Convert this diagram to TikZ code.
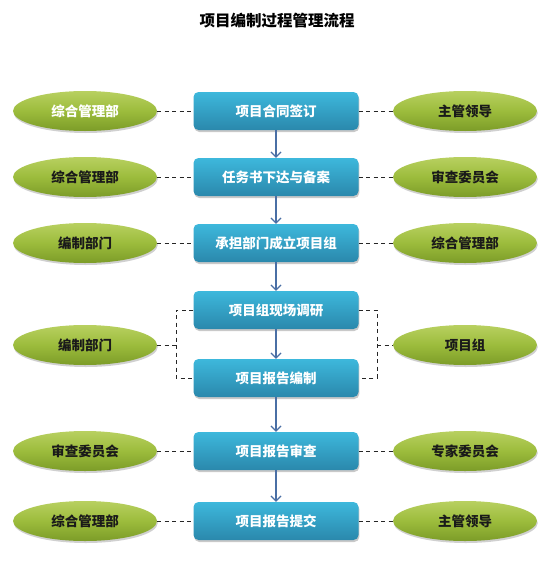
\documentclass[tikz,border=0pt]{standalone}
\usepackage{fontspec}
\setmainfont{Noto Sans CJK SC}
\usetikzlibrary{shapes.geometric,shadows,arrows.meta}
\definecolor{boxtop}{HTML}{3DB8DC}
\definecolor{boxbot}{HTML}{2A88AC}
\definecolor{elltop}{HTML}{B8D060}
\definecolor{ellmid}{HTML}{9CBC3C}
\definecolor{ellbot}{HTML}{7C9C28}
\definecolor{arrowc}{HTML}{4A6FA5}
\definecolor{textdark}{HTML}{1A1A1A}
\tikzset{
  stepbox/.style={rectangle, rounded corners=5pt, minimum width=165pt, minimum height=38pt, inner sep=0pt,
    top color=boxtop, bottom color=boxbot, draw=none,
    drop shadow={shadow xshift=0.8pt, shadow yshift=-2pt, opacity=0.35, fill=black!60},
    text=white, font=\bfseries\fontsize{13.5pt}{14pt}\selectfont},
  role/.style={ellipse, minimum width=144pt, minimum height=40pt, inner sep=0pt,
    top color=elltop, bottom color=ellbot, middle color=ellmid, draw=none,
    drop shadow={shadow xshift=0.8pt, shadow yshift=-2pt, opacity=0.3, fill=black!60},
    text=textdark, font=\bfseries\fontsize{13.5pt}{14pt}\selectfont},
  link/.style={draw=black!85, line width=1pt, dash pattern=on 4pt off 3.5pt},
  flow/.style={draw=arrowc, line width=1.2pt, -{Straight Barb[length=5pt,width=10pt,line width=1.2pt]}}
}
\begin{document}
\begin{tikzpicture}[x=1pt,y=-1pt]
\useasboundingbox (0,0) rectangle (553,562);
\fill[white] (0,0) rectangle (553,562);
\node[font=\bfseries\fontsize{15.5pt}{16pt}\selectfont] (title) at (277,21) {项目编制过程管理流程};

\node[stepbox] (b1) at (276,111) {项目合同签订};
\node[stepbox] (b2) at (276,177) {任务书下达与备案};
\node[stepbox] (b3) at (276,243) {承担部门成立项目组};
\node[stepbox] (b4) at (276,310) {项目组现场调研};
\node[stepbox] (b5) at (276,378) {项目报告编制};
\node[stepbox] (b6) at (276,451) {项目报告审查};
\node[stepbox] (b7) at (276,521) {项目报告提交};

\node[role, text=white] (l1) at (85,111) {综合管理部};
\node[role] (l2) at (85,177) {综合管理部};
\node[role] (l3) at (85,243) {编制部门};
\node[role] (l4) at (85,345) {编制部门};
\node[role] (l6) at (85,451) {审查委员会};
\node[role] (l7) at (85,521) {综合管理部};

\node[role] (r1) at (465,111) {主管领导};
\node[role] (r2) at (465,177) {审查委员会};
\node[role] (r3) at (465,243) {综合管理部};
\node[role] (r4) at (465,345) {项目组};
\node[role] (r6) at (465,451) {专家委员会};
\node[role] (r7) at (465,521) {主管领导};

\foreach \i in {1,2,3,6,7} {
  \draw[link] (l\i.east) -- (b\i.west);
  \draw[link] (b\i.east) -- (r\i.west);
}
\coordinate (lk) at (176,345);
\coordinate (rk) at (377,345);
\draw[link] (b4.west) -- (b4.west -| lk) -- (b5.west -| lk) -- (b5.west);
\draw[link] (l4.east) -- (lk);
\draw[link] (b4.east) -- (b4.east -| rk) -- (b5.east -| rk) -- (b5.east);
\draw[link] (rk) -- (r4.west);

\draw[flow] (b1.south) -- (b2.north);
\draw[flow] (b2.south) -- (b3.north);
\draw[flow] (b3.south) -- (b4.north);
\draw[flow] (b4.south) -- (b5.north);
\draw[flow] (b5.south) -- (b6.north);
\draw[flow] (b6.south) -- (b7.north);
\end{tikzpicture}
\end{document}
